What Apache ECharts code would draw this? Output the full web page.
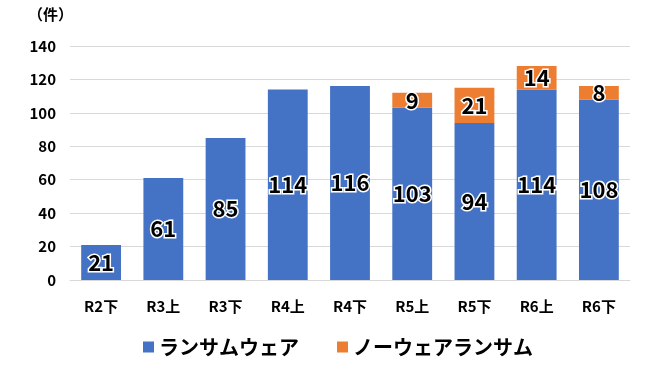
<!DOCTYPE html>
<html><head><meta charset="utf-8">
<script src="https://cdn.jsdelivr.net/npm/echarts@6/dist/echarts.min.js"></script>
<style>html,body{margin:0;padding:0;background:#fff}#c{width:646px;height:370px}</style>
</head><body><div id="c"></div>
<script>
const categories = ['R2下','R3上','R3下','R4上','R4下','R5上','R5下','R6上','R6下'];
const ransomware = [21,61,85,114,116,103,94,114,108];
const noware = [null,null,null,null,null,9,21,14,8];
const seriesNames = ['ランサムウェア','ノーウェアランサム'];
const yTicks = {min:0,max:140,interval:20};

const FONT = '"Noto Sans CJK JP", sans-serif';
const chart = echarts.init(document.getElementById('c'));
const lbl = {show:true, position:'inside', color:'#000', fontSize:22, fontWeight:'bold', fontFamily:FONT, textBorderColor:'#fff', textBorderWidth:3};
chart.setOption({
  animation:false,
  textStyle:{fontFamily:FONT},
  grid:{left:70,right:16,top:46,bottom:90},
  title:{text:'（件）',left:23,top:2,textStyle:{fontSize:15,fontWeight:'bold',color:'#000',fontFamily:FONT}},
  legend:{bottom:8,left:138,itemWidth:11,itemHeight:11,itemGap:38,icon:'rect',
    textStyle:{fontSize:20,fontWeight:'bold',color:'#000',fontFamily:FONT}},
  xAxis:{type:'category',data:categories,axisTick:{show:false},
    axisLine:{lineStyle:{color:'#d9d9d9'}},
    axisLabel:{color:'#000',fontSize:15,fontWeight:'bold',margin:19,fontFamily:FONT}},
  yAxis:{type:'value',min:yTicks.min,max:yTicks.max,interval:yTicks.interval,
    axisLine:{show:false},axisTick:{show:false},
    splitLine:{lineStyle:{color:'#d9d9d9'}},
    axisLabel:{color:'#000',fontSize:15,fontWeight:'bold',margin:14,fontFamily:FONT}},
  series:[
    {name:seriesNames[0],type:'bar',stack:'a',data:ransomware,barCategoryGap:'36%',itemStyle:{color:'#4472C4'},label:lbl},
    {name:seriesNames[1],type:'bar',stack:'a',data:noware,itemStyle:{color:'#ED7D31'},label:lbl}
  ]
});
</script></body></html>
